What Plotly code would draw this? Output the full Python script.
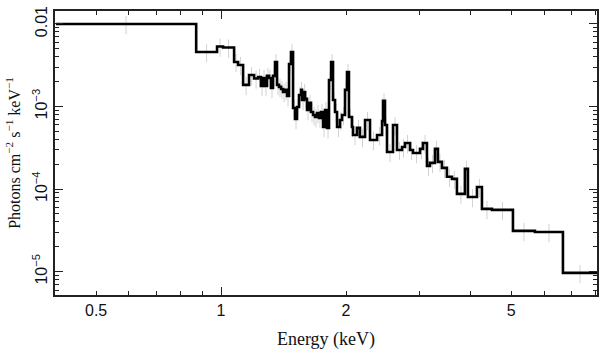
import numpy as np
import plotly.graph_objects as go

# Bin edges (keV)
bin_edges = [0.40, 0.871, 0.978, 1.011, 1.075, 1.099, 1.130, 1.168, 1.201, 1.228,
             1.248, 1.262, 1.276, 1.290, 1.305, 1.319, 1.334, 1.349, 1.364, 1.379,
             1.395, 1.410, 1.426, 1.442, 1.458, 1.474, 1.491, 1.507, 1.524, 1.541,
             1.559, 1.567, 1.585, 1.594, 1.611, 1.629, 1.647, 1.666, 1.684, 1.703,
             1.722, 1.741, 1.761, 1.780, 1.800, 1.820, 1.841, 1.861, 1.882, 1.903,
             1.935, 1.956, 1.989, 2.011, 2.033, 2.068, 2.079, 2.126, 2.161, 2.223,
             2.285, 2.376, 2.443, 2.456, 2.483, 2.511, 2.596, 2.654, 2.729, 2.775,
             2.852, 2.900, 3.015, 3.066, 3.134, 3.187, 3.276, 3.331, 3.406, 3.501,
             3.600, 3.701, 3.868, 3.934, 4.136, 4.252, 4.494, 5.050, 5.705, 6.664,
             8.05]

# Photon flux per bin (photons cm^-2 s^-1 keV^-1)
flux = [1.00e-2, 4.58e-3, 5.34e-3, 5.19e-3, 3.47e-3, 3.19e-3, 1.83e-3, 2.41e-3, 2.19e-3, 2.28e-3,
        1.78e-3, 2.22e-3, 1.78e-3, 2.35e-3, 2.22e-3, 1.68e-3, 2.35e-3, 3.47e-3, 1.83e-3, 1.73e-3,
        1.63e-3, 1.50e-3, 1.59e-3, 1.34e-3, 3.28e-3, 4.58e-3, 9.62e-4, 7.08e-4, 9.89e-4, 1.38e-3,
        1.59e-3, 1.20e-3, 1.50e-3, 1.24e-3, 9.10e-4, 1.11e-3, 8.60e-4, 7.91e-4, 7.48e-4, 8.37e-4,
        7.28e-4, 8.60e-4, 5.66e-4, 9.10e-4, 5.51e-4, 2.10e-3, 3.47e-3, 1.20e-3, 8.60e-4, 5.66e-4,
        6.88e-4, 7.91e-4, 1.59e-3, 2.62e-3, 7.48e-4, 5.66e-4, 4.53e-4, 5.51e-4, 4.29e-4, 6.88e-4,
        3.94e-4, 4.53e-4, 6.69e-4, 1.17e-3, 5.98e-4, 2.82e-4, 5.98e-4, 2.98e-4, 3.24e-4, 3.62e-4,
        2.98e-4, 2.74e-4, 3.07e-4, 3.62e-4, 1.91e-4, 2.08e-4, 3.07e-4, 2.14e-4, 1.81e-4, 1.41e-4,
        1.33e-4, 8.75e-5, 1.76e-4, 8.04e-5, 1.06e-4, 5.76e-5, 5.60e-5, 3.12e-5, 3.03e-5, 9.67e-6]

# Relative error on each bin (percent)
err_percent = 25

x_tickvals = [0.5, 0.6, 0.7, 0.8, 0.9, 1, 2, 3, 4, 5, 6, 7, 8]
x_ticktext = ["0.5", "", "", "", "", "1", "2", "", "", "5", "", "", ""]
y_tickvals = [1e-5, 1e-4, 1e-3, 1e-2]
y_ticktext = ["10<sup>−5</sup>", "10<sup>−4</sup>", "10<sup>−3</sup>", "0.01"]

edges = np.array(bin_edges)
vals = np.array(flux)
centers = np.sqrt(edges[:-1] * edges[1:])

y_minor = [m * 10.0 ** d for d in range(-6, -1) for m in range(2, 10)]

fig = go.Figure()
fig.add_trace(go.Scatter(
    x=centers, y=vals, mode="markers",
    marker=dict(size=0.1, color="rgba(0,0,0,0)"),
    error_y=dict(type="percent", value=err_percent, color="#d2d2d2", thickness=1, width=0),
    showlegend=False, hoverinfo="skip"))
fig.add_trace(go.Scatter(
    x=list(edges), y=list(vals) + [vals[-1]], mode="lines",
    line=dict(shape="hv", color="black", width=2.6),
    showlegend=False))

axis_common = dict(showline=True, linecolor="#222", linewidth=1.5, mirror="ticks",
                   ticks="inside", tickcolor="#222", tickwidth=1.2, showgrid=False,
                   zeroline=False, automargin=False)

fig.update_xaxes(type="log", range=[np.log10(0.398), np.log10(8.05)],
                 tickmode="array", tickvals=x_tickvals, ticktext=x_ticktext, ticklen=4,
                 minor=dict(tickmode="array", tickvals=[1], ticklen=8, ticks="inside",
                            tickcolor="#222", tickwidth=1.2, showgrid=False),
                 tickfont=dict(family="Liberation Sans, Arial, sans-serif", size=16, color="#111"),
                 title=dict(text="Energy (keV)", standoff=14,
                            font=dict(family="Liberation Serif, Times New Roman, serif", size=18, color="#111")),
                 **axis_common)
fig.update_yaxes(type="log", range=[-5.282, -1.843],
                 tickmode="array", tickvals=y_tickvals, ticktext=y_ticktext, ticklen=8,
                 tickangle=-90,
                 minor=dict(tickmode="array", tickvals=y_minor, ticklen=4, ticks="inside",
                            tickcolor="#222", tickwidth=1.2, showgrid=False),
                 tickfont=dict(family="Liberation Sans, Arial, sans-serif", size=16, color="#111"),
                 title=dict(text="Photons cm<sup>−2</sup> s<sup>−1</sup> keV<sup>−1</sup>", standoff=6,
                            font=dict(family="Liberation Serif, Times New Roman, serif", size=16, color="#111")),
                 **axis_common)

fig.update_layout(width=609, height=357, margin=dict(l=55, r=12, t=11, b=62),
                  plot_bgcolor="white", paper_bgcolor="white")
# remove the browser's default page margin so the figure fills the window exactly
fig.write_html("out.html", config={"displayModeBar": False},
               post_script="document.body.style.margin='0';document.body.style.overflow='hidden';")
